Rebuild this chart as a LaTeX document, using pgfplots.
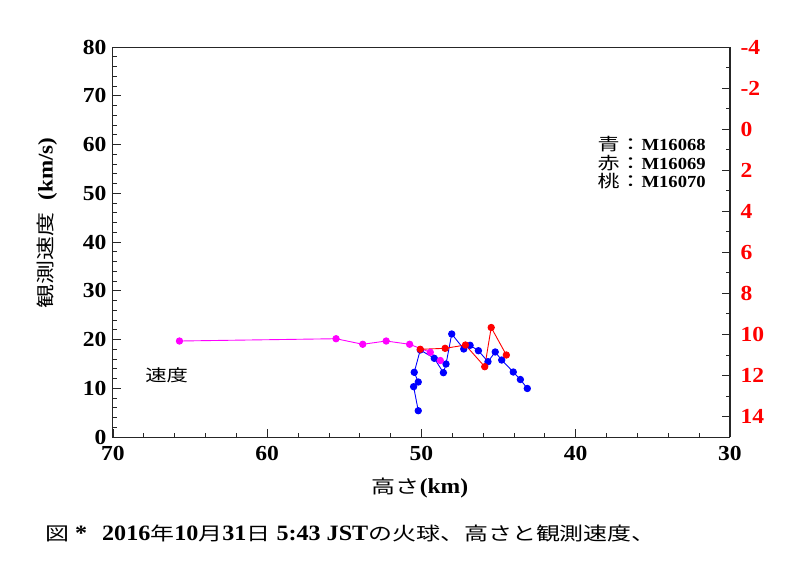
\documentclass[border=0pt]{standalone}
\usepackage{fontspec}
\setmainfont{Liberation Serif}[FakeStretch=1.1]
\newfontfamily\jp{Noto Sans CJK JP}[FakeStretch=1.3]
\usepackage{pgfplots}
\usepackage{pgfplotstable}
\pgfplotsset{compat=1.18}

\definecolor{seriesBlue}{RGB}{0,0,255}
\definecolor{seriesRed}{RGB}{255,0,0}
\definecolor{seriesPink}{RGB}{255,0,255}

% height (km) vs. observed speed (km/s)
\pgfplotstableread{
h v
50.21 5.39
50.51 10.32
50.21 11.28
50.47 13.27
50.08 17.85
49.17 16.14
48.58 13.19
48.41 14.97
48.04 21.13
47.26 18.05
46.85 18.81
46.31 17.70
45.69 15.45
45.22 17.44
44.80 15.79
44.05 13.33
43.59 11.79
43.14 9.95
}\tabMsixtyeight

\pgfplotstableread{
h v
50.08 17.99
48.47 18.19
47.15 18.87
45.90 14.42
45.48 22.46
44.50 16.82
}\tabMsixtynine

\pgfplotstableread{
h v
65.69 19.69
55.54 20.16
53.81 19.02
52.29 19.69
50.77 19.02
49.43 17.37
48.78 15.69
}\tabMseventy

\pgfplotsset{
  common/.style={
    scale only axis, width=617bp, height=390bp,
    at={(0,0)}, anchor=south west,
    xmin=30, xmax=70, x dir=reverse,
    tick align=inside,
    major tick length=8bp, minor tick length=4bp,
    axis line style={line width=1pt, black!85},
    every tick/.style={black!85, line width=0.8pt},
    every minor tick/.style={black!85, line width=0.8pt},
    tick label style={font=\bfseries\fontsize{21.5}{21.5}\selectfont},
    /pgf/number format/assume math mode=true,
  }
}

\begin{document}
\begin{tikzpicture}
\path[use as bounding box] (-113bp,-144bp) rectangle (687bp,437bp);

\begin{axis}[common,
  ymin=0, ymax=80,
  xtick={30,40,...,70}, ytick={0,10,...,80},
  minor x tick num=4, minor y tick num=4,
  xtick pos=bottom, ytick pos=left,
  yticklabel style={xshift=-3bp},
  xticklabel style={yshift=-6bp},
  mark size=3.2bp,
]
\addplot[seriesBlue, line width=0.9pt, mark=*, mark options={fill=seriesBlue, draw=seriesBlue}] table[x=h, y=v] {\tabMsixtyeight};
\addplot[seriesPink, line width=0.9pt, mark=*, mark options={fill=seriesPink, draw=seriesPink}] table[x=h, y=v] {\tabMseventy};
\addplot[seriesRed, line width=0.9pt, mark=*, mark options={fill=seriesRed, draw=seriesRed}] table[x=h, y=v] {\tabMsixtynine};

\node[anchor=west, inner sep=0, font=\jp\fontsize{16.5}{16.5}\selectfont] at (axis cs:67.92,12.7) {速度};
\node[anchor=north west, inner sep=0, align=left, font=\fontsize{17}{18.5}\selectfont] at (axis cs:38.6,61.7)
  {{\jp 青：}\textbf{M16068}\\{\jp 赤：}\textbf{M16069}\\{\jp 桃：}\textbf{M16070}};
\end{axis}

\begin{axis}[common,
  axis x line=none, axis y line*=right,
  y dir=reverse, ymin=-4, ymax=15,
  ytick={-4,-2,...,14}, minor y tick num=1,
  yticklabel style={seriesRed, xshift=7bp},
]
\end{axis}

% axis titles and caption
\node[rotate=90, inner sep=0] at (-66bp,214bp)
  {{\jp\fontsize{18.5}{18.5}\selectfont 観測速度}\hspace{1.2em}{\bfseries\fontsize{21}{21}\selectfont (km/s)}};
\node[inner sep=0] at (307bp,-51bp)
  {{\jp\fontsize{18.5}{18.5}\selectfont 高さ}{\bfseries\fontsize{21.5}{21.5}\selectfont (km)}};
\node[anchor=west, inner sep=0] at (-68bp,-96bp)
  {{\jp\fontsize{18.5}{18.5}\selectfont 図}{\bfseries\fontsize{22}{22}\selectfont\ *}\hspace{1.5em}{\bfseries\fontsize{22}{22}\selectfont 2016}{\jp\fontsize{18.5}{18.5}\selectfont 年}{\bfseries\fontsize{22}{22}\selectfont 10}{\jp\fontsize{18.5}{18.5}\selectfont 月}{\bfseries\fontsize{22}{22}\selectfont 31}{\jp\fontsize{18.5}{18.5}\selectfont 日}{\bfseries\fontsize{22}{22}\selectfont\ 5:43 JST}{\jp\fontsize{18.5}{18.5}\selectfont の火球、高さと観測速度、}};
\end{tikzpicture}
\end{document}
